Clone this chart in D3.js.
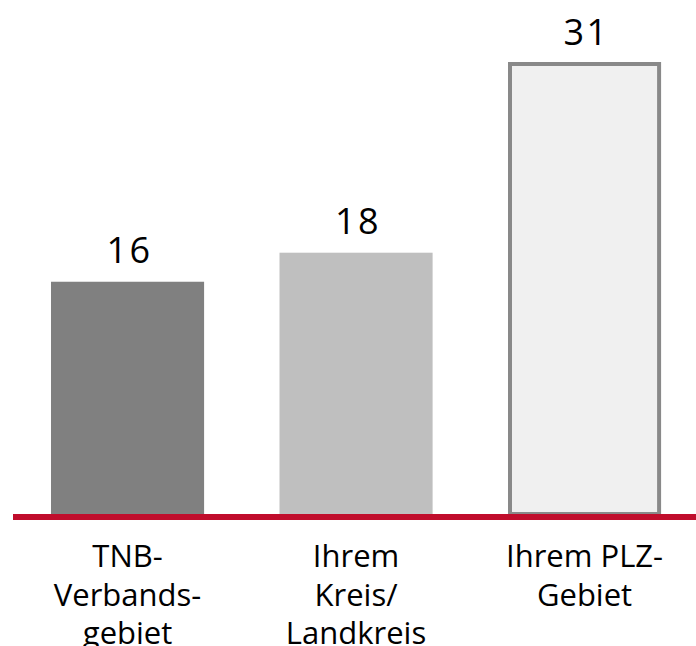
<!DOCTYPE html>
<html>
<head>
<meta charset="utf-8">
<script src="https://cdn.jsdelivr.net/npm/d3@7"></script>
<style>
    body { margin: 0; background: #fff; }
    text { font-family: "Open Sans", sans-serif; fill: #000; }
</style>
</head>
<body>
<script>
var w = 696;
var h = 646;

// chart data
var categories = ["TNB-Verbandsgebiet", "Ihrem Kreis/Landkreis", "Ihrem PLZ-Gebiet"];
var labelLines = [
    ["TNB-", "Verbands-", "gebiet"],
    ["Ihrem", "Kreis/", "Landkreis"],
    ["Ihrem PLZ-", "Gebiet"]
];
var values = [16, 18, 31];
var fills = ["#808080", "#bfbfbf", "#f0f0f0"];
var strokes = ["none", "none", "#898989"];

var baseY = 514;

var svg = d3.select("body")
    .append("svg")
    .attr("width", w)
    .attr("height", h);

var x = d3.scaleBand()
    .domain(categories)
    .range([13.3, 698.8])
    .paddingInner(0.33)
    .paddingOuter(0.165);

var y = d3.scaleLinear()
    .domain([0, 31])
    .range([baseY, 64]);

var bars = svg.append("g").attr("class", "bars");

bars.selectAll("rect")
    .data(values)
    .enter()
    .append("rect")
    .attr("x", (d, i) => strokes[i] == "none" ? x(categories[i]) : x(categories[i]) + 2)
    .attr("y", d => y(d))
    .attr("width", (d, i) => strokes[i] == "none" ? x.bandwidth() : x.bandwidth() - 4)
    .attr("height", d => baseY - y(d))
    .attr("fill", (d, i) => fills[i])
    .attr("stroke", (d, i) => strokes[i])
    .attr("stroke-width", 4);

// value labels
bars.selectAll("text")
    .data(values)
    .enter()
    .append("text")
    .attr("x", (d, i) => x(categories[i]) + x.bandwidth() / 2)
    .attr("dx", 2)
    .attr("y", d => y(d) - 19)
    .attr("text-anchor", "middle")
    .attr("font-size", 36)
    .attr("letter-spacing", 2.5)
    .text(d => d);

// red baseline
svg.append("line")
    .attr("x1", 13)
    .attr("x2", w)
    .attr("y1", baseY + 3)
    .attr("y2", baseY + 3)
    .attr("stroke", "#c00d2c")
    .attr("stroke-width", 6);

// category labels
var cats = svg.append("g").attr("class", "categories");
labelLines.forEach((lines, i) => {
    var t = cats.append("text")
        .attr("text-anchor", "middle")
        .attr("font-size", 31);
    lines.forEach((ln, j) => {
        t.append("tspan")
            .attr("x", x(categories[i]) + x.bandwidth() / 2)
            .attr("y", 567 + j * 38.5)
            .text(ln);
    });
});
</script>
</body>
</html>
